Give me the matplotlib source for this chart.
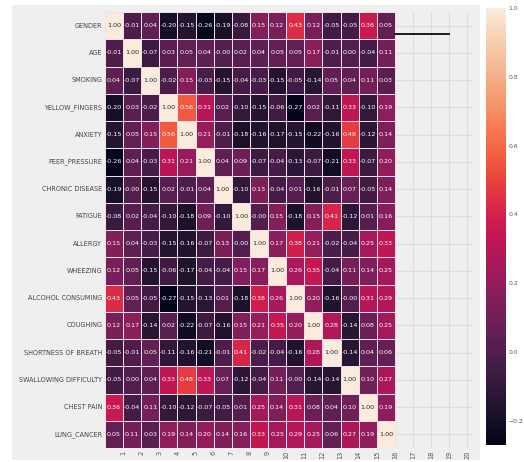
import numpy as np
import matplotlib.pyplot as plt
import seaborn as sns
from matplotlib.patches import Rectangle

# feature names (rows of the correlation matrix)
features = ["GENDER", "AGE", "SMOKING", "YELLOW_FINGERS", "ANXIETY",
            "PEER_PRESSURE", "CHRONIC DISEASE", "FATIGUE", "ALLERGY",
            "WHEEZING", "ALCOHOL CONSUMING", "COUGHING",
            "SHORTNESS OF BREATH", "SWALLOWING DIFFICULTY", "CHEST PAIN",
            "LUNG_CANCER"]

# correlation values, one list per row
gender = [1.00, -0.01, 0.04, -0.20, -0.15, -0.26, -0.19, -0.08, 0.15, 0.12, 0.43, 0.12, -0.05, -0.05, 0.36, 0.05]
age = [-0.01, 1.00, -0.07, 0.03, 0.05, 0.04, -0.00, 0.02, 0.04, 0.05, 0.05, 0.17, -0.01, 0.00, -0.04, 0.11]
smoking = [0.04, -0.07, 1.00, -0.02, 0.15, -0.03, -0.15, -0.04, -0.03, -0.15, -0.05, -0.14, 0.05, 0.04, 0.11, 0.03]
yellow_fingers = [-0.20, 0.03, -0.02, 1.00, 0.56, 0.31, 0.02, -0.10, -0.15, -0.06, -0.27, 0.02, -0.11, 0.33, -0.10, 0.19]
anxiety = [-0.15, 0.05, 0.15, 0.56, 1.00, 0.21, -0.01, -0.18, -0.16, -0.17, -0.15, -0.22, -0.16, 0.48, -0.12, 0.14]
peer_pressure = [-0.26, 0.04, -0.03, 0.31, 0.21, 1.00, 0.04, 0.09, -0.07, -0.04, -0.13, -0.07, -0.21, 0.33, -0.07, 0.20]
chronic_disease = [-0.19, -0.00, -0.15, 0.02, -0.01, 0.04, 1.00, -0.10, 0.13, -0.04, 0.01, -0.16, -0.01, 0.07, -0.05, 0.14]
fatigue = [-0.08, 0.02, -0.04, -0.10, -0.18, 0.09, -0.10, 1.00, -0.00, 0.15, -0.18, 0.15, 0.41, -0.12, 0.01, 0.16]
allergy = [0.15, 0.04, -0.03, -0.15, -0.16, -0.07, 0.13, -0.00, 1.00, 0.17, 0.38, 0.21, -0.02, -0.04, 0.25, 0.33]
wheezing = [0.12, 0.05, -0.15, -0.06, -0.17, -0.04, -0.04, 0.15, 0.17, 1.00, 0.26, 0.35, -0.04, 0.11, 0.14, 0.25]
alcohol = [0.43, 0.05, -0.05, -0.27, -0.15, -0.13, 0.01, -0.18, 0.38, 0.26, 1.00, 0.20, -0.16, -0.00, 0.31, 0.29]
coughing = [0.12, 0.17, -0.14, 0.02, -0.22, -0.07, -0.16, 0.15, 0.21, 0.35, 0.20, 1.00, 0.28, -0.14, 0.08, 0.25]
shortness = [-0.05, -0.01, 0.05, -0.11, -0.16, -0.21, -0.01, 0.41, -0.02, -0.04, -0.16, 0.28, 1.00, -0.14, 0.04, 0.06]
swallowing = [-0.05, 0.00, 0.04, 0.33, 0.48, 0.33, 0.07, -0.12, -0.04, 0.11, -0.00, -0.14, -0.14, 1.00, 0.10, 0.27]
chest_pain = [0.36, -0.04, 0.11, -0.10, -0.12, -0.07, -0.05, 0.01, 0.25, 0.14, 0.31, 0.08, 0.04, 0.10, 1.00, 0.19]
lung_cancer = [0.05, 0.11, 0.03, 0.19, 0.14, 0.20, 0.14, 0.16, 0.33, 0.25, 0.29, 0.25, 0.06, 0.27, 0.19, 1.00]

# x tick labels run past the matrix
x_ticks = [1, 2, 3, 4, 5, 6, 7, 8, 9, 10, 11, 12, 13, 14, 15, 16, 17, 18, 19, 20]
x_tick_labels = ["1", "2", "3", "4", "5", "6", "7", "8", "9", "10",
                 "11", "12", "13", "14", "15", "16", "17", "18", "19", "20"]

# stray line to the right of the matrix
line_x = [16, 19]
line_y = [0.8, 0.8]

corr = np.array([gender, age, smoking, yellow_fingers, anxiety, peer_pressure,
                 chronic_disease, fatigue, allergy, wheezing, alcohol, coughing,
                 shortness, swallowing, chest_pain, lung_cancer])

bg = "#efefef"
fig = plt.figure(figsize=(5.24, 4.62), dpi=100, facecolor="white")
fig.patches.append(Rectangle((12 / 524, 2 / 462), 468 / 524, 455 / 462,
                             transform=fig.transFigure, facecolor=bg,
                             edgecolor="none", zorder=-10))

ax = fig.add_axes([0.2004, 0.0303, 0.702, 0.9437])
cax = fig.add_axes([0.927, 0.037, 0.038, 0.946])

sns.heatmap(corr, ax=ax, cbar_ax=cax, cmap="rocket", annot=True, fmt=".2f",
            annot_kws={"size": 4.6}, linewidths=0.5, linecolor="#f3dfe8",
            yticklabels=features)

ax.set_facecolor(bg)
ax.set_xlim(0, 20.3)
ax.set_ylim(16, 0)
ax.set_xticks(x_ticks)
ax.set_xticklabels(x_tick_labels, rotation=90, fontsize=4.8, color="#555555")
ax.set_yticks(np.arange(16) + 0.5)
ax.set_yticklabels(features, fontsize=4.7, color="#444444")
ax.tick_params(length=0, pad=2)
ax.set_axisbelow(True)
ax.grid(True, color="#dcdcdc", linewidth=0.8)
for s in ax.spines.values():
    s.set_visible(False)

ax.plot(line_x, line_y, color="#1a1a1a", linewidth=1.4)

cax.set_yticks([-0.2, 0.0, 0.2, 0.4, 0.6, 0.8, 1.0])
cax.tick_params(labelsize=4.4, length=0, pad=2, colors="#555555")

fig.savefig("out.png", dpi=100, facecolor="white")
